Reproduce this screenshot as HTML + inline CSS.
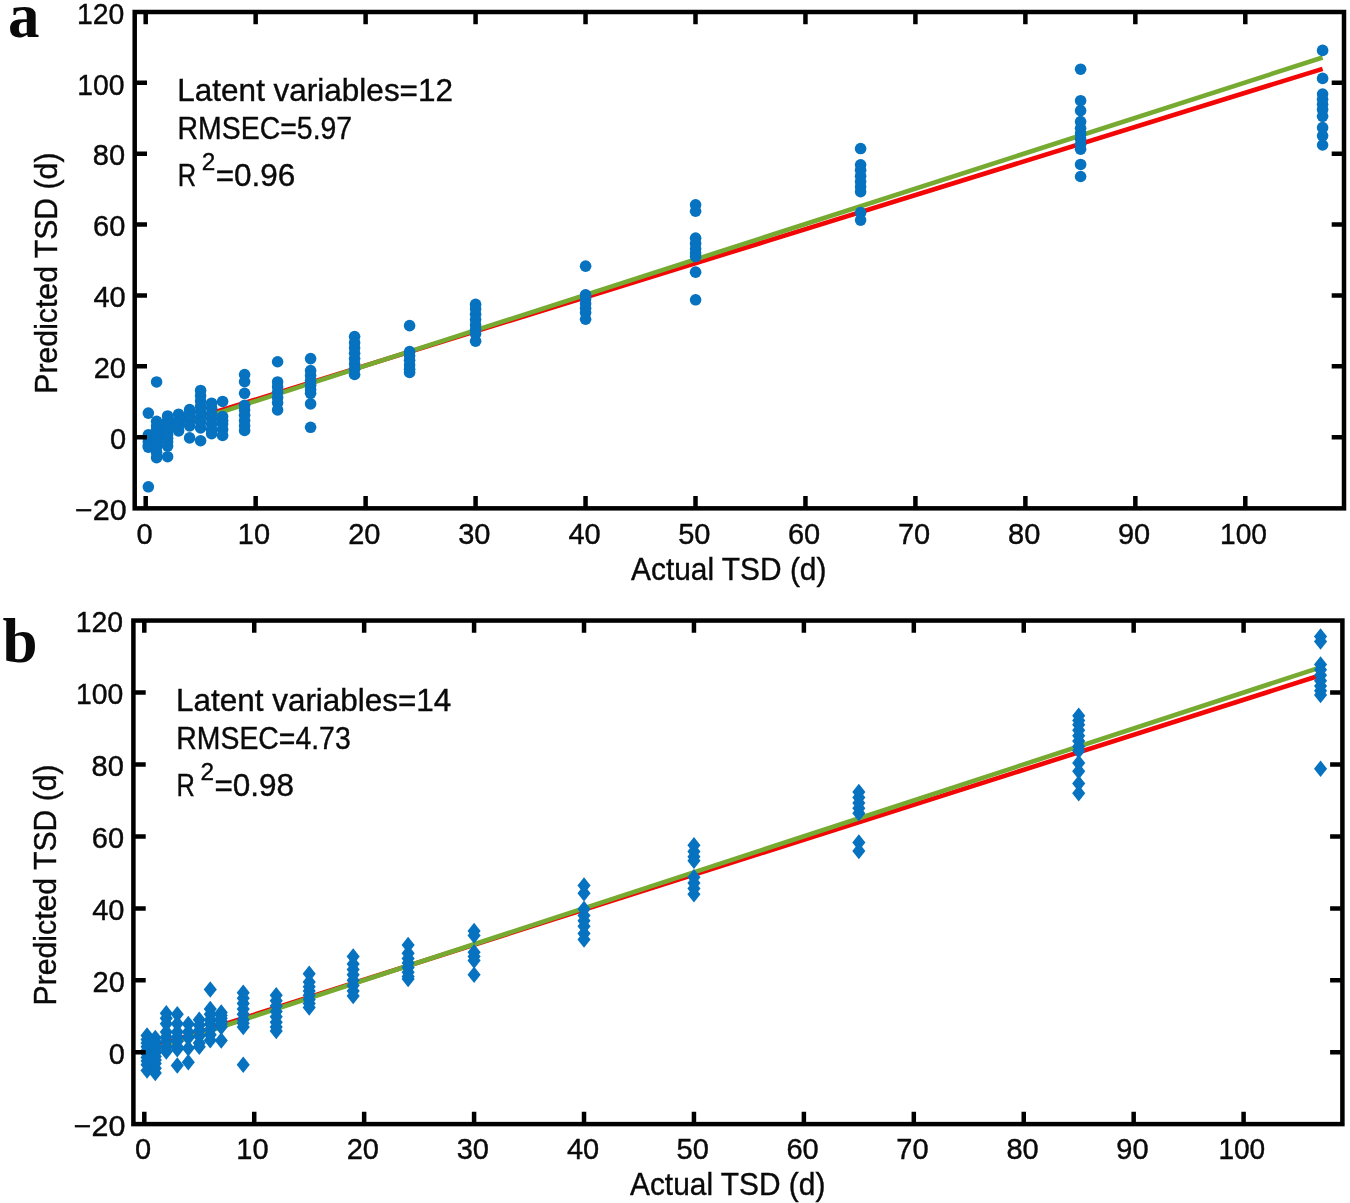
<!DOCTYPE html>
<html><head><meta charset="utf-8"><title>Predicted vs actual TSD</title>
<style>
html,body{margin:0;padding:0;background:#fff;}
body{width:1350px;height:1203px;overflow:hidden;font-family:"Liberation Sans",sans-serif;}
svg{display:block;font-family:"Liberation Sans",sans-serif;will-change:transform;}
svg text{fill:#0a0a0a;stroke:#0a0a0a;stroke-width:0.4px;}
</style></head><body>
<svg width="1350" height="1203" viewBox="0 0 1350 1203">
<line x1="156.6" y1="430.22" x2="1322.6" y2="68.85" stroke="#f20606" stroke-width="4.6"/>
<line x1="156.6" y1="432.96" x2="1322.6" y2="57.51" stroke="#76aa30" stroke-width="4.6"/>
<g fill="#0672c0"><circle cx="148.35" cy="413.12" r="5.8"/><circle cx="148.35" cy="434.73" r="5.8"/><circle cx="148.35" cy="438.27" r="5.8"/><circle cx="148.35" cy="441.81" r="5.8"/><circle cx="148.35" cy="445.36" r="5.8"/><circle cx="148.35" cy="447.13" r="5.8"/><circle cx="148.35" cy="486.8" r="5.8"/><circle cx="156.6" cy="381.95" r="5.8"/><circle cx="156.6" cy="421.27" r="5.8"/><circle cx="156.6" cy="425.87" r="5.8"/><circle cx="156.6" cy="429.42" r="5.8"/><circle cx="156.6" cy="432.96" r="5.8"/><circle cx="156.6" cy="436.5" r="5.8"/><circle cx="156.6" cy="440.04" r="5.8"/><circle cx="156.6" cy="443.58" r="5.8"/><circle cx="156.6" cy="447.13" r="5.8"/><circle cx="156.6" cy="452.44" r="5.8"/><circle cx="156.6" cy="457.75" r="5.8"/><circle cx="167.6" cy="415.96" r="5.8"/><circle cx="167.6" cy="420.56" r="5.8"/><circle cx="167.6" cy="424.1" r="5.8"/><circle cx="167.6" cy="427.64" r="5.8"/><circle cx="167.6" cy="431.19" r="5.8"/><circle cx="167.6" cy="434.73" r="5.8"/><circle cx="167.6" cy="438.27" r="5.8"/><circle cx="167.6" cy="441.81" r="5.8"/><circle cx="167.6" cy="446.06" r="5.8"/><circle cx="167.6" cy="456.69" r="5.8"/><circle cx="178.6" cy="414.19" r="5.8"/><circle cx="178.6" cy="418.79" r="5.8"/><circle cx="178.6" cy="422.33" r="5.8"/><circle cx="178.6" cy="425.87" r="5.8"/><circle cx="178.6" cy="430.83" r="5.8"/><circle cx="189.6" cy="409.58" r="5.8"/><circle cx="189.6" cy="413.48" r="5.8"/><circle cx="189.6" cy="417.02" r="5.8"/><circle cx="189.6" cy="420.56" r="5.8"/><circle cx="189.6" cy="425.87" r="5.8"/><circle cx="189.6" cy="437.92" r="5.8"/><circle cx="200.6" cy="390.45" r="5.8"/><circle cx="200.6" cy="395.77" r="5.8"/><circle cx="200.6" cy="401.08" r="5.8"/><circle cx="200.6" cy="406.39" r="5.8"/><circle cx="200.6" cy="411.71" r="5.8"/><circle cx="200.6" cy="417.02" r="5.8"/><circle cx="200.6" cy="422.33" r="5.8"/><circle cx="200.6" cy="428" r="5.8"/><circle cx="200.6" cy="440.75" r="5.8"/><circle cx="211.6" cy="403.21" r="5.8"/><circle cx="211.6" cy="408.16" r="5.8"/><circle cx="211.6" cy="413.48" r="5.8"/><circle cx="211.6" cy="418.79" r="5.8"/><circle cx="211.6" cy="424.1" r="5.8"/><circle cx="211.6" cy="429.42" r="5.8"/><circle cx="211.6" cy="433.67" r="5.8"/><circle cx="222.6" cy="401.43" r="5.8"/><circle cx="222.6" cy="416.66" r="5.8"/><circle cx="222.6" cy="420.56" r="5.8"/><circle cx="222.6" cy="424.1" r="5.8"/><circle cx="222.6" cy="429.42" r="5.8"/><circle cx="222.6" cy="435.44" r="5.8"/><circle cx="244.6" cy="374.51" r="5.8"/><circle cx="244.6" cy="381.6" r="5.8"/><circle cx="244.6" cy="393.29" r="5.8"/><circle cx="244.6" cy="405.33" r="5.8"/><circle cx="244.6" cy="409.94" r="5.8"/><circle cx="244.6" cy="415.25" r="5.8"/><circle cx="244.6" cy="420.56" r="5.8"/><circle cx="244.6" cy="425.87" r="5.8"/><circle cx="244.6" cy="430.48" r="5.8"/><circle cx="277.6" cy="361.76" r="5.8"/><circle cx="277.6" cy="381.95" r="5.8"/><circle cx="277.6" cy="386.91" r="5.8"/><circle cx="277.6" cy="392.23" r="5.8"/><circle cx="277.6" cy="397.54" r="5.8"/><circle cx="277.6" cy="402.85" r="5.8"/><circle cx="277.6" cy="409.94" r="5.8"/><circle cx="310.6" cy="358.58" r="5.8"/><circle cx="310.6" cy="370.62" r="5.8"/><circle cx="310.6" cy="375.58" r="5.8"/><circle cx="310.6" cy="380.54" r="5.8"/><circle cx="310.6" cy="385.14" r="5.8"/><circle cx="310.6" cy="389.75" r="5.8"/><circle cx="310.6" cy="393.29" r="5.8"/><circle cx="310.6" cy="403.91" r="5.8"/><circle cx="310.6" cy="427.29" r="5.8"/><circle cx="354.6" cy="336.62" r="5.8"/><circle cx="354.6" cy="342.64" r="5.8"/><circle cx="354.6" cy="347.95" r="5.8"/><circle cx="354.6" cy="353.26" r="5.8"/><circle cx="354.6" cy="358.58" r="5.8"/><circle cx="354.6" cy="363.89" r="5.8"/><circle cx="354.6" cy="369.2" r="5.8"/><circle cx="354.6" cy="374.51" r="5.8"/><circle cx="409.6" cy="325.64" r="5.8"/><circle cx="409.6" cy="351.49" r="5.8"/><circle cx="409.6" cy="355.74" r="5.8"/><circle cx="409.6" cy="360.35" r="5.8"/><circle cx="409.6" cy="364.95" r="5.8"/><circle cx="409.6" cy="369.2" r="5.8"/><circle cx="409.6" cy="372.39" r="5.8"/><circle cx="475.6" cy="304.38" r="5.8"/><circle cx="475.6" cy="308.99" r="5.8"/><circle cx="475.6" cy="314.3" r="5.8"/><circle cx="475.6" cy="319.61" r="5.8"/><circle cx="475.6" cy="324.93" r="5.8"/><circle cx="475.6" cy="329.53" r="5.8"/><circle cx="475.6" cy="333.78" r="5.8"/><circle cx="475.6" cy="341.22" r="5.8"/><circle cx="585.6" cy="266.13" r="5.8"/><circle cx="585.6" cy="294.82" r="5.8"/><circle cx="585.6" cy="299.07" r="5.8"/><circle cx="585.6" cy="303.68" r="5.8"/><circle cx="585.6" cy="308.28" r="5.8"/><circle cx="585.6" cy="312.53" r="5.8"/><circle cx="585.6" cy="319.26" r="5.8"/><circle cx="695.6" cy="204.85" r="5.8"/><circle cx="695.6" cy="211.23" r="5.8"/><circle cx="695.6" cy="238.15" r="5.8"/><circle cx="695.6" cy="243.46" r="5.8"/><circle cx="695.6" cy="248.77" r="5.8"/><circle cx="695.6" cy="253.02" r="5.8"/><circle cx="695.6" cy="256.57" r="5.8"/><circle cx="695.6" cy="272.15" r="5.8"/><circle cx="695.6" cy="299.78" r="5.8"/><circle cx="860.6" cy="148.54" r="5.8"/><circle cx="860.6" cy="164.83" r="5.8"/><circle cx="860.6" cy="170.14" r="5.8"/><circle cx="860.6" cy="176.16" r="5.8"/><circle cx="860.6" cy="181.48" r="5.8"/><circle cx="860.6" cy="186.79" r="5.8"/><circle cx="860.6" cy="191.75" r="5.8"/><circle cx="860.6" cy="212.65" r="5.8"/><circle cx="860.6" cy="220.08" r="5.8"/><circle cx="1080.6" cy="69.19" r="5.8"/><circle cx="1080.6" cy="100.72" r="5.8"/><circle cx="1080.6" cy="110.64" r="5.8"/><circle cx="1080.6" cy="121.62" r="5.8"/><circle cx="1080.6" cy="128.35" r="5.8"/><circle cx="1080.6" cy="133.66" r="5.8"/><circle cx="1080.6" cy="138.97" r="5.8"/><circle cx="1080.6" cy="144.29" r="5.8"/><circle cx="1080.6" cy="149.24" r="5.8"/><circle cx="1080.6" cy="164.47" r="5.8"/><circle cx="1080.6" cy="176.52" r="5.8"/><circle cx="1322.6" cy="50.42" r="5.8"/><circle cx="1322.6" cy="78.4" r="5.8"/><circle cx="1322.6" cy="93.99" r="5.8"/><circle cx="1322.6" cy="99.3" r="5.8"/><circle cx="1322.6" cy="104.26" r="5.8"/><circle cx="1322.6" cy="109.57" r="5.8"/><circle cx="1322.6" cy="116.3" r="5.8"/><circle cx="1322.6" cy="127.64" r="5.8"/><circle cx="1322.6" cy="135.78" r="5.8"/><circle cx="1322.6" cy="144.99" r="5.8"/></g>
<rect x="134.7" y="12" width="1209.3" height="496.35" fill="none" stroke="#000" stroke-width="4.5"/>
<path d="M145.7 12v12.3M145.7 508.35v-12.3M255.66 12v12.3M255.66 508.35v-12.3M365.62 12v12.3M365.62 508.35v-12.3M475.58 12v12.3M475.58 508.35v-12.3M585.54 12v12.3M585.54 508.35v-12.3M695.5 12v12.3M695.5 508.35v-12.3M805.46 12v12.3M805.46 508.35v-12.3M915.42 12v12.3M915.42 508.35v-12.3M1025.38 12v12.3M1025.38 508.35v-12.3M1135.34 12v12.3M1135.34 508.35v-12.3M1245.3 12v12.3M1245.3 508.35v-12.3M134.7 437.25h12.3M1344 437.25h-12.3M134.7 366.35h12.3M1344 366.35h-12.3M134.7 295.45h12.3M1344 295.45h-12.3M134.7 224.55h12.3M1344 224.55h-12.3M134.7 153.65h12.3M1344 153.65h-12.3M134.7 82.75h12.3M1344 82.75h-12.3" stroke="#000" stroke-width="4.5" fill="none"/>
<g><text x="136.49" y="543.9" font-size="29.0" textLength="16.14" lengthAdjust="spacingAndGlyphs">0</text><text x="237.8" y="543.9" font-size="29.0" textLength="32.26" lengthAdjust="spacingAndGlyphs">10</text><text x="348.14" y="543.9" font-size="29.0" textLength="32.26" lengthAdjust="spacingAndGlyphs">20</text><text x="458.23" y="543.9" font-size="29.0" textLength="32.26" lengthAdjust="spacingAndGlyphs">30</text><text x="568.44" y="543.9" font-size="29.0" textLength="32.26" lengthAdjust="spacingAndGlyphs">40</text><text x="678.15" y="543.9" font-size="29.0" textLength="32.26" lengthAdjust="spacingAndGlyphs">50</text><text x="787.98" y="543.9" font-size="29.0" textLength="32.26" lengthAdjust="spacingAndGlyphs">60</text><text x="897.94" y="543.9" font-size="29.0" textLength="32.26" lengthAdjust="spacingAndGlyphs">70</text><text x="1008.03" y="543.9" font-size="29.0" textLength="32.26" lengthAdjust="spacingAndGlyphs">80</text><text x="1117.99" y="543.9" font-size="29.0" textLength="32.26" lengthAdjust="spacingAndGlyphs">90</text><text x="1220.08" y="543.9" font-size="29.0" textLength="46.86" lengthAdjust="spacingAndGlyphs">100</text><text x="74.9" y="519.95" font-size="29.0" textLength="51.69" lengthAdjust="spacingAndGlyphs">−20</text><text x="110.08" y="449.05" font-size="29.0" textLength="16.14" lengthAdjust="spacingAndGlyphs">0</text><text x="93.74" y="378.15" font-size="29.0" textLength="32.26" lengthAdjust="spacingAndGlyphs">20</text><text x="93.42" y="307.25" font-size="29.0" textLength="32.26" lengthAdjust="spacingAndGlyphs">40</text><text x="93.11" y="236.35" font-size="29.0" textLength="32.26" lengthAdjust="spacingAndGlyphs">60</text><text x="92.79" y="165.45" font-size="29.0" textLength="32.26" lengthAdjust="spacingAndGlyphs">80</text><text x="77.28" y="94.55" font-size="29.0" textLength="47.29" lengthAdjust="spacingAndGlyphs">100</text><text x="76.96" y="23.65" font-size="29.0" textLength="47.29" lengthAdjust="spacingAndGlyphs">120</text></g>
<g><text x="177.35" y="101.3" font-size="32.0" textLength="275.68" lengthAdjust="spacingAndGlyphs">Latent variables=12</text><text x="177.6" y="139.3" font-size="32.0" textLength="174.55" lengthAdjust="spacingAndGlyphs">RMSEC=5.97</text><text x="177.85" y="186.4" font-size="32.0" textLength="18.34" lengthAdjust="spacingAndGlyphs">R</text><text x="201.71" y="169.9" font-size="24.0" textLength="13.55" lengthAdjust="spacingAndGlyphs">2</text><text x="215.67" y="186.4" font-size="32.0" textLength="79.68" lengthAdjust="spacingAndGlyphs">=0.96</text><text x="631.1" y="579.8" font-size="32.0" textLength="195.33" lengthAdjust="spacingAndGlyphs">Actual TSD (d)</text></g>
<text transform="translate(56.7 391.2) rotate(-90)" x="-2.44" y="0" font-size="32.0" textLength="241.11" lengthAdjust="spacingAndGlyphs">Predicted TSD (d)</text>
<text x="8.03" y="36.9" font-size="63.0" style="font-family:'Liberation Serif',serif;font-weight:bold;stroke:none">a</text>
<line x1="155.29" y1="1046.19" x2="1320.55" y2="675.31" stroke="#f20606" stroke-width="4.6"/>
<line x1="155.29" y1="1048.5" x2="1320.55" y2="667.33" stroke="#76aa30" stroke-width="4.6"/>
<g fill="#0672c0"><path d="M147.05 1027.31L153.6 1035.56L147.05 1043.81L140.5 1035.56Z"/><path d="M147.05 1031.26L153.6 1039.51L147.05 1047.76L140.5 1039.51Z"/><path d="M147.05 1034.86L153.6 1043.11L147.05 1051.36L140.5 1043.11Z"/><path d="M147.05 1038.46L153.6 1046.71L147.05 1054.96L140.5 1046.71Z"/><path d="M147.05 1042.05L153.6 1050.3L147.05 1058.55L140.5 1050.3Z"/><path d="M147.05 1045.65L153.6 1053.9L147.05 1062.15L140.5 1053.9Z"/><path d="M147.05 1049.24L153.6 1057.49L147.05 1065.74L140.5 1057.49Z"/><path d="M147.05 1052.84L153.6 1061.09L147.05 1069.34L140.5 1061.09Z"/><path d="M147.05 1056.44L153.6 1064.69L147.05 1072.94L140.5 1064.69Z"/><path d="M147.05 1062.19L153.6 1070.44L147.05 1078.69L140.5 1070.44Z"/><path d="M155.29 1029.83L161.84 1038.08L155.29 1046.33L148.74 1038.08Z"/><path d="M155.29 1033.78L161.84 1042.03L155.29 1050.28L148.74 1042.03Z"/><path d="M155.29 1037.38L161.84 1045.63L155.29 1053.88L148.74 1045.63Z"/><path d="M155.29 1040.97L161.84 1049.22L155.29 1057.47L148.74 1049.22Z"/><path d="M155.29 1044.57L161.84 1052.82L155.29 1061.07L148.74 1052.82Z"/><path d="M155.29 1048.17L161.84 1056.42L155.29 1064.67L148.74 1056.42Z"/><path d="M155.29 1051.76L161.84 1060.01L155.29 1068.26L148.74 1060.01Z"/><path d="M155.29 1055.36L161.84 1063.61L155.29 1071.86L148.74 1063.61Z"/><path d="M155.29 1060.03L161.84 1068.28L155.29 1076.53L148.74 1068.28Z"/><path d="M155.29 1064.71L161.84 1072.96L155.29 1081.21L148.74 1072.96Z"/><path d="M166.29 1005.01L172.84 1013.26L166.29 1021.51L159.74 1013.26Z"/><path d="M166.29 1010.05L172.84 1018.3L166.29 1026.55L159.74 1018.3Z"/><path d="M166.29 1015.44L172.84 1023.69L166.29 1031.94L159.74 1023.69Z"/><path d="M166.29 1023.71L172.84 1031.96L166.29 1040.21L159.74 1031.96Z"/><path d="M166.29 1028.75L172.84 1037L166.29 1045.25L159.74 1037Z"/><path d="M166.29 1033.06L172.84 1041.31L166.29 1049.56L159.74 1041.31Z"/><path d="M166.29 1038.46L172.84 1046.71L166.29 1054.96L159.74 1046.71Z"/><path d="M166.29 1043.13L172.84 1051.38L166.29 1059.63L159.74 1051.38Z"/><path d="M177.28 1006.09L183.83 1014.34L177.28 1022.59L170.73 1014.34Z"/><path d="M177.28 1015.44L183.83 1023.69L177.28 1031.94L170.73 1023.69Z"/><path d="M177.28 1023.71L183.83 1031.96L177.28 1040.21L170.73 1031.96Z"/><path d="M177.28 1028.75L183.83 1037L177.28 1045.25L170.73 1037Z"/><path d="M177.28 1033.06L183.83 1041.31L177.28 1049.56L170.73 1041.31Z"/><path d="M177.28 1038.46L183.83 1046.71L177.28 1054.96L170.73 1046.71Z"/><path d="M177.28 1040.97L183.83 1049.22L177.28 1057.47L170.73 1049.22Z"/><path d="M177.28 1057.16L183.83 1065.41L177.28 1073.66L170.73 1065.41Z"/><path d="M188.27 1015.8L194.82 1024.05L188.27 1032.3L181.72 1024.05Z"/><path d="M188.27 1023.71L194.82 1031.96L188.27 1040.21L181.72 1031.96Z"/><path d="M188.27 1029.47L194.82 1037.72L188.27 1045.97L181.72 1037.72Z"/><path d="M188.27 1039.89L194.82 1048.14L188.27 1056.39L181.72 1048.14Z"/><path d="M188.27 1053.92L194.82 1062.17L188.27 1070.42L181.72 1062.17Z"/><path d="M199.27 1011.49L205.82 1019.74L199.27 1027.99L192.72 1019.74Z"/><path d="M199.27 1016.88L205.82 1025.13L199.27 1033.38L192.72 1025.13Z"/><path d="M199.27 1022.27L205.82 1030.52L199.27 1038.77L192.72 1030.52Z"/><path d="M199.27 1027.67L205.82 1035.92L199.27 1044.17L192.72 1035.92Z"/><path d="M199.27 1034.86L205.82 1043.11L199.27 1051.36L192.72 1043.11Z"/><path d="M199.27 1038.46L205.82 1046.71L199.27 1054.96L192.72 1046.71Z"/><path d="M210.26 981.28L216.81 989.53L210.26 997.78L203.71 989.53Z"/><path d="M210.26 1000.7L216.81 1008.95L210.26 1017.2L203.71 1008.95Z"/><path d="M210.26 1006.09L216.81 1014.34L210.26 1022.59L203.71 1014.34Z"/><path d="M210.26 1011.49L216.81 1019.74L210.26 1027.99L203.71 1019.74Z"/><path d="M210.26 1015.8L216.81 1024.05L210.26 1032.3L203.71 1024.05Z"/><path d="M210.26 1021.2L216.81 1029.45L210.26 1037.7L203.71 1029.45Z"/><path d="M210.26 1026.59L216.81 1034.84L210.26 1043.09L203.71 1034.84Z"/><path d="M210.26 1031.98L216.81 1040.23L210.26 1048.48L203.71 1040.23Z"/><path d="M221.25 1004.29L227.8 1012.54L221.25 1020.79L214.7 1012.54Z"/><path d="M221.25 1007.17L227.8 1015.42L221.25 1023.67L214.7 1015.42Z"/><path d="M221.25 1010.05L227.8 1018.3L221.25 1026.55L214.7 1018.3Z"/><path d="M221.25 1012.92L227.8 1021.17L221.25 1029.42L214.7 1021.17Z"/><path d="M221.25 1015.8L227.8 1024.05L221.25 1032.3L214.7 1024.05Z"/><path d="M221.25 1018.68L227.8 1026.93L221.25 1035.18L214.7 1026.93Z"/><path d="M221.25 1032.34L227.8 1040.59L221.25 1048.84L214.7 1040.59Z"/><path d="M243.24 984.52L249.79 992.77L243.24 1001.02L236.69 992.77Z"/><path d="M243.24 989.91L249.79 998.16L243.24 1006.41L236.69 998.16Z"/><path d="M243.24 995.3L249.79 1003.55L243.24 1011.8L236.69 1003.55Z"/><path d="M243.24 1000.7L249.79 1008.95L243.24 1017.2L236.69 1008.95Z"/><path d="M243.24 1006.09L249.79 1014.34L243.24 1022.59L236.69 1014.34Z"/><path d="M243.24 1011.49L249.79 1019.74L243.24 1027.99L236.69 1019.74Z"/><path d="M243.24 1015.08L249.79 1023.33L243.24 1031.58L236.69 1023.33Z"/><path d="M243.24 1018.68L249.79 1026.93L243.24 1035.18L236.69 1026.93Z"/><path d="M243.24 1056.44L249.79 1064.69L243.24 1072.94L236.69 1064.69Z"/><path d="M276.22 987.03L282.77 995.28L276.22 1003.53L269.67 995.28Z"/><path d="M276.22 992.43L282.77 1000.68L276.22 1008.93L269.67 1000.68Z"/><path d="M276.22 997.82L282.77 1006.07L276.22 1014.32L269.67 1006.07Z"/><path d="M276.22 1003.22L282.77 1011.47L276.22 1019.72L269.67 1011.47Z"/><path d="M276.22 1008.61L282.77 1016.86L276.22 1025.11L269.67 1016.86Z"/><path d="M276.22 1014L282.77 1022.25L276.22 1030.5L269.67 1022.25Z"/><path d="M276.22 1018.68L282.77 1026.93L276.22 1035.18L269.67 1026.93Z"/><path d="M276.22 1022.63L282.77 1030.88L276.22 1039.13L269.67 1030.88Z"/><path d="M309.2 965.46L315.75 973.71L309.2 981.96L302.65 973.71Z"/><path d="M309.2 973.73L315.75 981.98L309.2 990.23L302.65 981.98Z"/><path d="M309.2 978.4L315.75 986.65L309.2 994.9L302.65 986.65Z"/><path d="M309.2 982.72L315.75 990.97L309.2 999.22L302.65 990.97Z"/><path d="M309.2 987.03L315.75 995.28L309.2 1003.53L302.65 995.28Z"/><path d="M309.2 991.35L315.75 999.6L309.2 1007.85L302.65 999.6Z"/><path d="M309.2 995.3L315.75 1003.55L309.2 1011.8L302.65 1003.55Z"/><path d="M309.2 999.26L315.75 1007.51L309.2 1015.76L302.65 1007.51Z"/><path d="M353.17 948.2L359.72 956.45L353.17 964.7L346.62 956.45Z"/><path d="M353.17 955.75L359.72 964L353.17 972.25L346.62 964Z"/><path d="M353.17 961.14L359.72 969.39L353.17 977.64L346.62 969.39Z"/><path d="M353.17 966.54L359.72 974.79L353.17 983.04L346.62 974.79Z"/><path d="M353.17 971.93L359.72 980.18L353.17 988.43L346.62 980.18Z"/><path d="M353.17 977.32L359.72 985.57L353.17 993.82L346.62 985.57Z"/><path d="M353.17 982.72L359.72 990.97L353.17 999.22L346.62 990.97Z"/><path d="M353.17 987.75L359.72 996L353.17 1004.25L346.62 996Z"/><path d="M408.13 936.69L414.68 944.94L408.13 953.19L401.58 944.94Z"/><path d="M408.13 944.96L414.68 953.21L408.13 961.46L401.58 953.21Z"/><path d="M408.13 950.35L414.68 958.6L408.13 966.85L401.58 958.6Z"/><path d="M408.13 954.67L414.68 962.92L408.13 971.17L401.58 962.92Z"/><path d="M408.13 959.34L414.68 967.59L408.13 975.84L401.58 967.59Z"/><path d="M408.13 964.02L414.68 972.27L408.13 980.52L401.58 972.27Z"/><path d="M408.13 968.33L414.68 976.58L408.13 984.83L401.58 976.58Z"/><path d="M408.13 970.85L414.68 979.1L408.13 987.35L401.58 979.1Z"/><path d="M474.09 922.66L480.64 930.91L474.09 939.16L467.54 930.91Z"/><path d="M474.09 927.34L480.64 935.59L474.09 943.84L467.54 935.59Z"/><path d="M474.09 943.88L480.64 952.13L474.09 960.38L467.54 952.13Z"/><path d="M474.09 948.2L480.64 956.45L474.09 964.7L467.54 956.45Z"/><path d="M474.09 952.15L480.64 960.4L474.09 968.65L467.54 960.4Z"/><path d="M474.09 966.54L480.64 974.79L474.09 983.04L467.54 974.79Z"/><path d="M584.02 877.36L590.57 885.61L584.02 893.86L577.47 885.61Z"/><path d="M584.02 884.91L590.57 893.16L584.02 901.41L577.47 893.16Z"/><path d="M584.02 900.73L590.57 908.98L584.02 917.23L577.47 908.98Z"/><path d="M584.02 907.2L590.57 915.45L584.02 923.7L577.47 915.45Z"/><path d="M584.02 912.6L590.57 920.85L584.02 929.1L577.47 920.85Z"/><path d="M584.02 917.99L590.57 926.24L584.02 934.49L577.47 926.24Z"/><path d="M584.02 925.18L590.57 933.43L584.02 941.68L577.47 933.43Z"/><path d="M584.02 931.3L590.57 939.55L584.02 947.8L577.47 939.55Z"/><path d="M693.95 837.08L700.5 845.33L693.95 853.58L687.4 845.33Z"/><path d="M693.95 843.19L700.5 851.44L693.95 859.69L687.4 851.44Z"/><path d="M693.95 848.59L700.5 856.84L693.95 865.09L687.4 856.84Z"/><path d="M693.95 852.54L700.5 860.79L693.95 869.04L687.4 860.79Z"/><path d="M693.95 869.08L700.5 877.33L693.95 885.58L687.4 877.33Z"/><path d="M693.95 874.84L700.5 883.09L693.95 891.34L687.4 883.09Z"/><path d="M693.95 880.23L700.5 888.48L693.95 896.73L687.4 888.48Z"/><path d="M693.95 885.99L700.5 894.24L693.95 902.49L687.4 894.24Z"/><path d="M858.85 783.86L865.39 792.11L858.85 800.36L852.3 792.11Z"/><path d="M858.85 789.25L865.39 797.5L858.85 805.75L852.3 797.5Z"/><path d="M858.85 794.65L865.39 802.9L858.85 811.15L852.3 802.9Z"/><path d="M858.85 800.04L865.39 808.29L858.85 816.54L852.3 808.29Z"/><path d="M858.85 805.08L865.39 813.33L858.85 821.58L852.3 813.33Z"/><path d="M858.85 834.2L865.39 842.45L858.85 850.7L852.3 842.45Z"/><path d="M858.85 842.83L865.39 851.08L858.85 859.33L852.3 851.08Z"/><path d="M1078.7 707.62L1085.25 715.87L1078.7 724.12L1072.15 715.87Z"/><path d="M1078.7 712.3L1085.25 720.55L1078.7 728.8L1072.15 720.55Z"/><path d="M1078.7 716.61L1085.25 724.86L1078.7 733.11L1072.15 724.86Z"/><path d="M1078.7 722.01L1085.25 730.26L1078.7 738.51L1072.15 730.26Z"/><path d="M1078.7 727.4L1085.25 735.65L1078.7 743.9L1072.15 735.65Z"/><path d="M1078.7 732.8L1085.25 741.05L1078.7 749.3L1072.15 741.05Z"/><path d="M1078.7 738.19L1085.25 746.44L1078.7 754.69L1072.15 746.44Z"/><path d="M1078.7 742.51L1085.25 750.76L1078.7 759.01L1072.15 750.76Z"/><path d="M1078.7 754.73L1085.25 762.98L1078.7 771.23L1072.15 762.98Z"/><path d="M1078.7 763L1085.25 771.25L1078.7 779.5L1072.15 771.25Z"/><path d="M1078.7 775.23L1085.25 783.48L1078.7 791.73L1072.15 783.48Z"/><path d="M1078.7 784.94L1085.25 793.19L1078.7 801.44L1072.15 793.19Z"/><path d="M1320.55 628.15L1327.1 636.4L1320.55 644.65L1314 636.4Z"/><path d="M1320.55 633.19L1327.1 641.44L1320.55 649.69L1314 641.44Z"/><path d="M1320.55 656.2L1327.1 664.45L1320.55 672.7L1314 664.45Z"/><path d="M1320.55 661.6L1327.1 669.85L1320.55 678.1L1314 669.85Z"/><path d="M1320.55 666.99L1327.1 675.24L1320.55 683.49L1314 675.24Z"/><path d="M1320.55 672.38L1327.1 680.63L1320.55 688.88L1314 680.63Z"/><path d="M1320.55 677.78L1327.1 686.03L1320.55 694.28L1314 686.03Z"/><path d="M1320.55 682.45L1327.1 690.7L1320.55 698.95L1314 690.7Z"/><path d="M1320.55 686.77L1327.1 695.02L1320.55 703.27L1314 695.02Z"/><path d="M1320.55 760.49L1327.1 768.74L1320.55 776.99L1314 768.74Z"/></g>
<rect x="133.4" y="620.55" width="1209" height="503.55" fill="none" stroke="#000" stroke-width="4.5"/>
<path d="M144.3 620.55v12.3M144.3 1124.1v-12.3M254.23 620.55v12.3M254.23 1124.1v-12.3M364.16 620.55v12.3M364.16 1124.1v-12.3M474.09 620.55v12.3M474.09 1124.1v-12.3M584.02 620.55v12.3M584.02 1124.1v-12.3M693.95 620.55v12.3M693.95 1124.1v-12.3M803.88 620.55v12.3M803.88 1124.1v-12.3M913.81 620.55v12.3M913.81 1124.1v-12.3M1023.74 620.55v12.3M1023.74 1124.1v-12.3M1133.67 620.55v12.3M1133.67 1124.1v-12.3M1243.6 620.55v12.3M1243.6 1124.1v-12.3M133.4 1052.3h12.3M1342.4 1052.3h-12.3M133.4 980.34h12.3M1342.4 980.34h-12.3M133.4 908.38h12.3M1342.4 908.38h-12.3M133.4 836.42h12.3M1342.4 836.42h-12.3M133.4 764.46h12.3M1342.4 764.46h-12.3M133.4 692.5h12.3M1342.4 692.5h-12.3" stroke="#000" stroke-width="4.5" fill="none"/>
<g><text x="135.09" y="1159.4" font-size="29.0" textLength="16.14" lengthAdjust="spacingAndGlyphs">0</text><text x="236.37" y="1159.4" font-size="29.0" textLength="32.26" lengthAdjust="spacingAndGlyphs">10</text><text x="346.68" y="1159.4" font-size="29.0" textLength="32.26" lengthAdjust="spacingAndGlyphs">20</text><text x="456.74" y="1159.4" font-size="29.0" textLength="32.26" lengthAdjust="spacingAndGlyphs">30</text><text x="566.92" y="1159.4" font-size="29.0" textLength="32.26" lengthAdjust="spacingAndGlyphs">40</text><text x="676.6" y="1159.4" font-size="29.0" textLength="32.26" lengthAdjust="spacingAndGlyphs">50</text><text x="786.4" y="1159.4" font-size="29.0" textLength="32.26" lengthAdjust="spacingAndGlyphs">60</text><text x="896.33" y="1159.4" font-size="29.0" textLength="32.26" lengthAdjust="spacingAndGlyphs">70</text><text x="1006.39" y="1159.4" font-size="29.0" textLength="32.26" lengthAdjust="spacingAndGlyphs">80</text><text x="1116.32" y="1159.4" font-size="29.0" textLength="32.26" lengthAdjust="spacingAndGlyphs">90</text><text x="1218.38" y="1159.4" font-size="29.0" textLength="46.86" lengthAdjust="spacingAndGlyphs">100</text><text x="73.7" y="1135.76" font-size="29.0" textLength="51.69" lengthAdjust="spacingAndGlyphs">−20</text><text x="108.86" y="1063.8" font-size="29.0" textLength="16.14" lengthAdjust="spacingAndGlyphs">0</text><text x="92.51" y="991.84" font-size="29.0" textLength="32.26" lengthAdjust="spacingAndGlyphs">20</text><text x="92.18" y="919.88" font-size="29.0" textLength="32.26" lengthAdjust="spacingAndGlyphs">40</text><text x="91.85" y="847.92" font-size="29.0" textLength="32.26" lengthAdjust="spacingAndGlyphs">60</text><text x="91.52" y="775.96" font-size="29.0" textLength="32.26" lengthAdjust="spacingAndGlyphs">80</text><text x="75.99" y="704" font-size="29.0" textLength="47.29" lengthAdjust="spacingAndGlyphs">100</text><text x="75.66" y="632.04" font-size="29.0" textLength="47.29" lengthAdjust="spacingAndGlyphs">120</text></g>
<g><text x="176.11" y="711.3" font-size="32.0" textLength="275.16" lengthAdjust="spacingAndGlyphs">Latent variables=14</text><text x="176.35" y="749.3" font-size="32.0" textLength="174.32" lengthAdjust="spacingAndGlyphs">RMSEC=4.73</text><text x="176.6" y="796.4" font-size="32.0" textLength="18.34" lengthAdjust="spacingAndGlyphs">R</text><text x="200.46" y="779.9" font-size="24.0" textLength="13.55" lengthAdjust="spacingAndGlyphs">2</text><text x="214.42" y="796.4" font-size="32.0" textLength="79.68" lengthAdjust="spacingAndGlyphs">=0.98</text><text x="630" y="1194.6" font-size="32.0" textLength="195.33" lengthAdjust="spacingAndGlyphs">Actual TSD (d)</text></g>
<text transform="translate(56 1003) rotate(-90)" x="-2.44" y="0" font-size="32.0" textLength="241.11" lengthAdjust="spacingAndGlyphs">Predicted TSD (d)</text>
<text x="2.46" y="662.1" font-size="63.0" style="font-family:'Liberation Serif',serif;font-weight:bold;stroke:none">b</text>
</svg>
</body></html>
